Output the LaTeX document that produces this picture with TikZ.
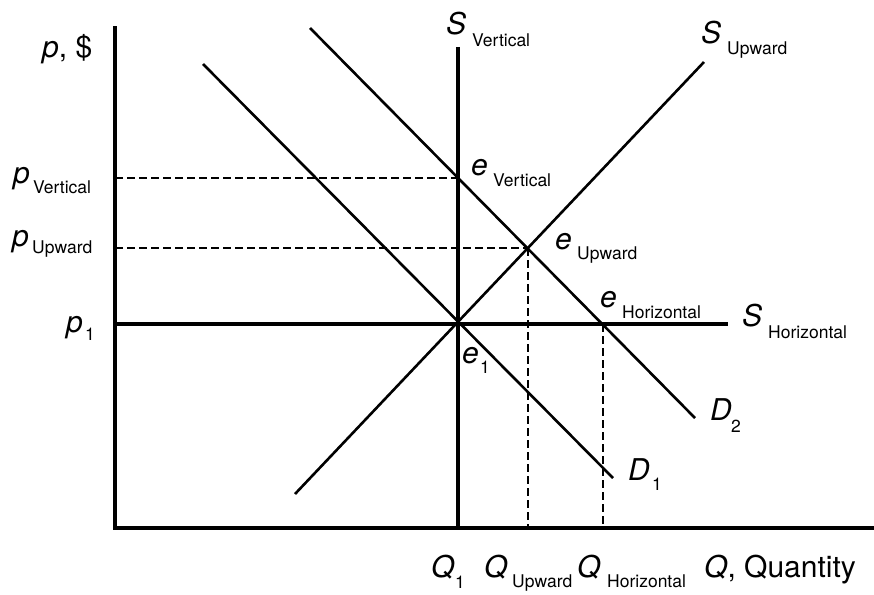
\documentclass[tikz,border=0pt]{standalone}
\usepackage{fontspec}
\setmainfont{TeX Gyre Heros}
\begin{document}
\begin{tikzpicture}[x=1pt,y=-1pt,
  axis/.style={line width=3.6pt},
  curve/.style={line width=2.6pt},
  supply/.style={line width=3.2pt},
  guide/.style={line width=2.3pt, dash pattern=on 8pt off 4pt},
  mainlab/.style={inner sep=0pt, anchor=base west, font=\fontsize{30}{30}\selectfont\itshape},
  sublab/.style={inner sep=0pt, anchor=base west, font=\fontsize{17.5}{17.5}\selectfont},
  uplab/.style={inner sep=0pt, anchor=base west, font=\fontsize{30}{30}\selectfont}]
\useasboundingbox (0,0) rectangle (874,594);
% key points
\coordinate (O) at (115,528);
\coordinate (ytop) at (115,28);
\coordinate (xend) at (874,528);
\coordinate (e1) at (458,323);
\coordinate (eV) at (458,178);
\coordinate (eU) at (528,248);
\coordinate (eH) at (603,324);
\coordinate (pV) at (115,178);
\coordinate (pU) at (115,248);
\coordinate (p1) at (115,324);
\coordinate (QU) at (528,528);
\coordinate (QH) at (603,528);
\coordinate (Q1) at (458,528);
\coordinate (SVtop) at (458,47);
\coordinate (SHend) at (728,324);
\coordinate (SUlo) at (295,494);
\coordinate (SUhi) at (704,62);
\coordinate (D1a) at (203,64);
\coordinate (D1b) at (613,478);
\coordinate (D2a) at (310,28);
\coordinate (D2b) at (695,418);
% dashed guides
\draw[guide] (pV) -- (eV);
\draw[guide] (pU) -- (eU);
\draw[guide] (eU) -- (QU);
\draw[guide] (eH) -- (QH);
% curves
\draw[curve] (D1a) -- (D1b);
\draw[curve] (D2a) -- (D2b);
\draw[curve] (SUlo) -- (SUhi);
\draw[supply] (SVtop) -- (Q1);
\draw[supply] (p1) -- (SHend);
% axes
\draw[axis, line cap=rect] (ytop) -- (O) -- (xend);
% labels
\node[mainlab] (pax) at (42,57) {p\upshape, \$};
\node[mainlab] (SVm) at (446,35) {S};
\node[sublab] (SVs) at (472,46) {Vertical};
\node[mainlab] (SUm) at (701,44) {S};
\node[sublab] (SUs) at (727,55) {Upward};
\node[mainlab] (eVm) at (471,175) {e};
\node[sublab] (eVs) at (493,186) {Vertical};
\node[mainlab] (eUm) at (555,249) {e};
\node[sublab] (eUs) at (577,259) {Upward};
\node[mainlab] (eHm) at (600,307) {e};
\node[sublab] (eHs) at (622,318) {Horizontal};
\node[mainlab] (SHm) at (742,326) {S};
\node[sublab] (SHs) at (768,338) {Horizontal};
\node[mainlab] (e1m) at (462,363) {e};
\node[sublab] (e1s) at (480,373) {1};
\node[mainlab] (D2m) at (710,420) {D};
\node[sublab] (D2s) at (731,432) {2};
\node[mainlab] (D1m) at (628,480) {D};
\node[sublab] (D1s) at (652,490) {1};
\node[mainlab] (pVm) at (13,183) {p};
\node[sublab] (pVs) at (33,193) {Vertical};
\node[mainlab] (pUm) at (12,246) {p};
\node[sublab] (pUs) at (32,253) {Upward};
\node[mainlab] (p1m) at (66,332) {p};
\node[sublab] (p1s) at (85,340) {1};
\node[mainlab] (Q1m) at (431,577) {Q};
\node[sublab] (Q1s) at (455,588) {1};
\node[mainlab] (QUm) at (484,577) {Q};
\node[sublab] (QUs) at (512,587) {Upward};
\node[mainlab] (QHm) at (577,577) {Q};
\node[sublab] (QHs) at (607,587) {Horizontal};
\node[mainlab] (Qax) at (704,577) {Q\upshape, Quantity};
\end{tikzpicture}
\end{document}
